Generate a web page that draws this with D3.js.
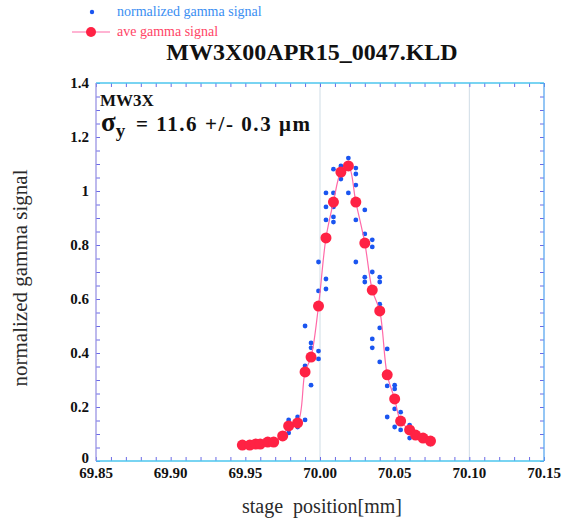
<!DOCTYPE html>
<html>
<head>
<meta charset="utf-8">
<script src="https://cdn.jsdelivr.net/npm/d3@7"></script>
<style>
  html, body { margin: 0; padding: 0; background: #fff; }
  svg { display: block; }
</style>
</head>
<body>
<svg id="chart" width="573" height="524"></svg>
<script>
const xTicks = [69.85, 69.90, 69.95, 70.00, 70.05, 70.10, 70.15];
const xTickLabels = ["69.85", "69.90", "69.95", "70.00", "70.05", "70.10", "70.15"];
const yTicks = [0, 0.2, 0.4, 0.6, 0.8, 1.0, 1.2, 1.4];
const yTickLabels = ["0", "0.2", "0.4", "0.6", "0.8", "1", "1.2", "1.4"];
const gridX = [70.00, 70.10];

// averaged signal (red)
const aveX = [69.948, 69.953, 69.957, 69.960, 69.965, 69.969, 69.975, 69.979, 69.985,
  69.990, 69.994, 69.999, 70.004, 70.009, 70.014, 70.019, 70.024, 70.030, 70.035,
  70.040, 70.045, 70.050, 70.054, 70.060, 70.064, 70.069, 70.074];
const aveY = [0.059, 0.059, 0.063, 0.063, 0.070, 0.070, 0.093, 0.130, 0.141,
  0.330, 0.385, 0.574, 0.826, 0.959, 1.070, 1.093, 0.959, 0.807, 0.633,
  0.556, 0.319, 0.230, 0.148, 0.115, 0.096, 0.085, 0.074];

// individual normalized samples (blue)
const normX = [69.965, 69.969, 69.975, 69.979, 69.979, 69.979, 69.985, 69.985,
  69.990, 69.990, 69.990, 69.994, 69.994, 69.994, 69.999, 69.999, 69.999, 69.999,
  70.004, 70.004, 70.004, 70.004, 70.004, 70.009, 70.009, 70.009, 70.009, 70.009,
  70.014, 70.014, 70.019, 70.019, 70.024, 70.024, 70.024, 70.024, 70.024,
  70.030, 70.030, 70.030, 70.030, 70.035, 70.035, 70.035, 70.035, 70.035,
  70.040, 70.040, 70.040, 70.040, 70.040, 70.045, 70.045, 70.045,
  70.050, 70.050, 70.050, 70.050, 70.054, 70.054, 70.060, 70.060, 70.064, 70.069, 70.074];
const normY = [0.074, 0.067, 0.100, 0.152, 0.104, 0.119, 0.163, 0.126,
  0.500, 0.352, 0.152, 0.437, 0.419, 0.281, 0.737, 0.630, 0.407, 0.378,
  0.993, 0.941, 0.893, 0.674, 0.637, 1.081, 0.993, 0.941, 0.904, 0.885,
  1.093, 1.044, 1.122, 0.993, 1.085, 1.063, 1.022, 0.893, 0.737,
  0.930, 0.841, 0.681, 0.663, 0.819, 0.793, 0.700, 0.452, 0.419,
  0.681, 0.663, 0.581, 0.493, 0.367, 0.415, 0.278, 0.163,
  0.281, 0.267, 0.193, 0.126, 0.181, 0.115, 0.133, 0.085, 0.104, 0.085, 0.063];

const svg = d3.select("#chart");
const m = { l: 96, r: 29, t: 83, b: 63 };
const W = 573, H = 524;
const serif = "'Liberation Serif', 'Times New Roman', serif";

const x = d3.scaleLinear().domain([69.85, 70.15]).range([m.l, W - m.r]);
const y = d3.scaleLinear().domain([0, 1.4]).range([H - m.b, m.t]);

// grid lines
svg.selectAll("line.grid")
  .data(gridX)
  .join("line")
  .attr("class", "grid")
  .attr("x1", d => x(d)).attr("x2", d => x(d))
  .attr("y1", y(1.4)).attr("y2", y(0))
  .attr("stroke", "#cfdde6")
  .attr("stroke-width", 1);

// minor/major ticks on all four sides, pointing inward
const tickColor = "#6a6ae6";
const xMinor = d3.range(0, 31).map(i => 69.85 + i * 0.01);
const yMinor = d3.range(0, 29).map(i => i * 0.05);

const bottomAxis = d3.axisBottom(x).tickValues(xMinor).tickSize(-4).tickFormat("");
const topAxis = d3.axisTop(x).tickValues(xMinor).tickSize(-4).tickFormat("");
const leftAxis = d3.axisLeft(y).tickValues(yMinor).tickSize(-4).tickFormat("");
const rightAxis = d3.axisRight(y).tickValues(yMinor).tickSize(-4).tickFormat("");

function styleAxis(g) {
  g.select(".domain").remove();
  g.selectAll(".tick line").attr("stroke", tickColor).attr("stroke-width", 1);
}
svg.append("g").attr("transform", `translate(0,${y(0)})`).call(bottomAxis).call(styleAxis);
svg.append("g").attr("transform", `translate(0,${y(1.4)})`).call(topAxis).call(styleAxis);
svg.append("g").attr("transform", `translate(${x(69.85)},0)`).call(leftAxis).call(styleAxis);
svg.append("g").attr("transform", `translate(${x(70.15)},0)`).call(rightAxis).call(styleAxis);

// frame
const fx0 = x(69.85), fx1 = x(70.15), fy0 = y(1.4), fy1 = y(0);
svg.append("line").attr("x1", fx0).attr("x2", fx1).attr("y1", fy0).attr("y2", fy0)
  .attr("stroke", "#4cc6ee").attr("stroke-width", 1.3);
svg.append("line").attr("x1", fx0).attr("x2", fx1).attr("y1", fy1).attr("y2", fy1)
  .attr("stroke", "#4cc6ee").attr("stroke-width", 1.3);
svg.append("line").attr("x1", fx1).attr("x2", fx1).attr("y1", fy0).attr("y2", fy1)
  .attr("stroke", "#5aa8f0").attr("stroke-width", 1.3);
svg.append("line").attr("x1", fx0).attr("x2", fx0).attr("y1", fy0).attr("y2", fy1)
  .attr("stroke", "#9a94e4").attr("stroke-width", 1.3);

// tick labels
svg.selectAll("text.xt")
  .data(xTicks)
  .join("text")
  .attr("class", "xt")
  .attr("x", d => x(d))
  .attr("y", 478)
  .attr("text-anchor", "middle")
  .attr("font-family", serif)
  .attr("font-weight", "bold")
  .attr("font-size", 15)
  .attr("fill", "#111")
  .text((d, i) => xTickLabels[i]);

svg.selectAll("text.yt")
  .data(yTicks)
  .join("text")
  .attr("class", "yt")
  .attr("x", 89)
  .attr("y", d => y(d) - (d === 0 ? 3 : 0))
  .attr("dy", "0.35em")
  .attr("text-anchor", "end")
  .attr("font-family", serif)
  .attr("font-weight", "bold")
  .attr("font-size", 15)
  .attr("fill", "#111")
  .text((d, i) => yTickLabels[i]);

// axis titles
svg.append("text")
  .attr("x", 322).attr("y", 513)
  .attr("text-anchor", "middle")
  .attr("font-family", serif)
  .attr("font-size", 20)
  .attr("fill", "#2a2a2a")
  .attr("xml:space", "preserve")
  .text("stage  position[mm]");

svg.append("text")
  .attr("transform", "translate(27,278) rotate(-90)")
  .attr("text-anchor", "middle")
  .attr("font-family", serif)
  .attr("font-size", 21)
  .attr("fill", "#2a2a2a")
  .text("normalized gamma signal");

// title
svg.append("text")
  .attr("x", 312).attr("y", 60)
  .attr("text-anchor", "middle")
  .attr("font-family", serif)
  .attr("font-weight", "bold")
  .attr("font-size", 24)
  .attr("fill", "#111")
  .text("MW3X00APR15_0047.KLD");

// annotation
svg.append("text")
  .attr("x", 100).attr("y", 106)
  .attr("font-family", serif)
  .attr("font-weight", "bold")
  .attr("font-size", 17)
  .attr("fill", "#111")
  .text("MW3X");

const sig = svg.append("text")
  .attr("x", 101).attr("y", 131)
  .attr("font-family", serif)
  .attr("font-weight", "bold")
  .attr("fill", "#111");
sig.append("tspan").attr("font-size", 27).text("σ");
sig.append("tspan").attr("font-size", 19).attr("dy", 6).text("y");
sig.append("tspan").attr("font-size", 21).attr("x", 136).attr("dy", -6)
  .attr("textLength", 174).attr("lengthAdjust", "spacing")
  .text("= 11.6 +/- 0.3 μm");

// data
const line = d3.line()
  .x((d, i) => x(aveX[i]))
  .y(d => y(d))
  .curve(d3.curveCatmullRom.alpha(0.5));

svg.append("g")
  .selectAll("circle")
  .data(normY)
  .join("circle")
  .attr("cx", (d, i) => x(normX[i]))
  .attr("cy", d => y(d))
  .attr("r", 2.4)
  .attr("fill", "#1a55f0");

svg.append("path")
  .datum(aveY)
  .attr("fill", "none")
  .attr("stroke", "#ff6aa8")
  .attr("stroke-width", 1.2)
  .attr("d", line);

svg.append("g")
  .selectAll("circle")
  .data(aveY)
  .join("circle")
  .attr("cx", (d, i) => x(aveX[i]))
  .attr("cy", d => y(d))
  .attr("r", 5.5)
  .attr("fill", "#ff2244");

// legend
const lg = svg.append("g");
lg.append("circle").attr("cx", 92).attr("cy", 12).attr("r", 2.2).attr("fill", "#1a55f0");
lg.append("text").attr("x", 117).attr("y", 16)
  .attr("font-family", serif).attr("font-size", 14).attr("fill", "#3a8ef2")
  .text("normalized gamma signal");
lg.append("line").attr("x1", 72).attr("x2", 110).attr("y1", 32).attr("y2", 32)
  .attr("stroke", "#ff6aa8").attr("stroke-width", 1.2);
lg.append("circle").attr("cx", 91).attr("cy", 32).attr("r", 5).attr("fill", "#ff2244");
lg.append("text").attr("x", 117).attr("y", 36)
  .attr("font-family", serif).attr("font-size", 14).attr("fill", "#ff4466")
  .text("ave gamma signal");
</script>
</body>
</html>
